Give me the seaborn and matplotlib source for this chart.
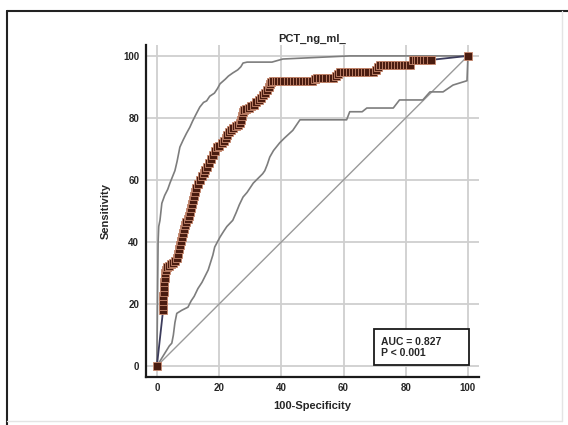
import numpy as np
import pandas as pd
import matplotlib
matplotlib.use("Agg")
import matplotlib.pyplot as plt
import seaborn as sns
from matplotlib.lines import Line2D
from matplotlib.patches import Rectangle
from matplotlib.ticker import MultipleLocator

sns.set_theme(style="whitegrid")
plt.rcParams['font.family'] = ['Liberation Sans', 'DejaVu Sans']

# ── data ─────────────────────────────────────────────────────────
roc_fpr = [0, 2, 2, 2, 2.1, 2.2, 2.3, 2.4, 2.5, 2.6, 2.8, 3.2, 3.8, 4.5, 5.2,
           5.8, 6.4, 6.8, 7.1, 7.4, 7.7, 8, 8.3, 8.6, 9, 9.5, 10, 10.4, 10.7,
           11, 11.2, 11.5, 11.8, 12.2, 12.7, 13.3, 13.8, 14.4, 15, 15.6, 16.2,
           16.8, 17.4, 18, 18.6, 19.3, 20, 20.8, 21.5, 22.2, 22.7, 23.2, 23.8,
           24.5, 25.3, 26, 26.7, 27.1, 27.4, 27.7, 28, 28.8, 29.6, 30.4, 31.2,
           32, 32.8, 33.5, 34.2, 34.8, 35.4, 35.9, 36.3, 36.8, 37.3, 38.2, 39.1,
           40, 41, 42, 43, 44, 45, 46, 47, 48, 49, 50, 50.8, 51.5, 52.5, 53.5,
           54.5, 55.5, 56.6, 57.5, 58.3, 59, 60, 61, 62, 63, 64, 65, 66, 67, 68,
           69.5, 70.3, 71, 71.7, 72.6, 73.5, 74.5, 75.5, 76.5, 77.5, 78.5, 79.5,
           80.5, 81.4, 82.3, 83.2, 84.1, 85, 86, 87, 88, 100]
roc_tpr = [0, 18, 19.5, 21, 22.5, 24, 25.5, 27, 28.5, 30, 31, 31.8, 32.3, 32.8,
           33.3, 34, 35, 36.3, 37.6, 39, 40.3, 41.6, 43, 44.3, 45.5, 46.5, 47.5,
           48.5, 49.7, 51, 52.3, 53.6, 55, 56.2, 57.4, 58.7, 60, 61.2, 62.3,
           63.2, 64.3, 65.5, 66.8, 68, 69.5, 70.5, 71, 71.8, 72.6, 73.5, 74.5,
           75.5, 76.2, 76.8, 77.3, 77.8, 78.5, 79.5, 80.7, 82, 82.6, 83, 83.3,
           83.7, 84.2, 85, 85.8, 86.5, 87.3, 88.2, 89.1, 90, 91, 91.5, 92, 92,
           92, 92, 92, 92, 92, 92, 92, 92, 92, 92, 92, 92, 92.5, 93, 93, 93,
           93, 93, 93, 93.6, 94.2, 94.7, 94.7, 94.7, 94.7, 94.7, 94.7, 94.7,
           94.7, 94.7, 94.7, 94.7, 95.5, 96.3, 97, 97, 97, 97, 97, 97, 97, 97,
           97, 97, 97, 98.7, 98.7, 98.7, 98.7, 98.7, 98.7, 98.7, 100]

upper_fpr = [0, 0.2, 0.4, 0.6, 1, 1.6, 2.5, 3.5, 4.2, 5, 5.8, 6.5, 7.4, 8.5,
             9.5, 10.6, 11.5, 12.5, 13.8, 15, 16, 17, 18.5, 19.5, 20.3, 22, 23,
             24.4, 26, 27, 27.7, 29, 37, 40.5, 62, 100]
upper_tpr = [0, 20, 40, 45, 47, 52.5, 55, 57, 59, 61, 63, 66, 70.6, 73,
             75, 77, 79, 81, 83.5, 85, 85.5, 87, 88, 89.5, 91, 92.5, 93.5,
             94.5, 95.5, 96.5, 97.7, 98, 98, 99, 100, 100]

lower_fpr = [0, 4, 4.8, 5.3, 5.8, 6.4, 8, 10, 11, 12, 13.2, 14.5, 15.5, 16.5,
             17, 18, 18.6, 20.3, 21.5, 22.5, 24.4, 25.5, 26.5, 27.7, 29, 30,
             31, 32.5, 34, 34.7, 35.5, 36.3, 37.5, 39.5, 41, 43.7, 46, 61, 62,
             66, 67.5, 76, 78, 85.5, 87.8, 92, 95.2, 99.7, 100]
lower_tpr = [0, 6.5, 7.4, 10, 14, 17, 18, 19, 21, 22.5, 25, 27, 29, 31,
             32.6, 35.8, 38.4, 41.6, 43.5, 45, 47, 49.5, 52, 54.5, 56, 57.5,
             59, 60.5, 62, 63, 65, 67.4, 69.5, 72, 73.5, 76, 79.4, 79.4, 82,
             82, 83.2, 83.2, 85.8, 85.8, 88.4, 88.4, 90.6, 92, 100]

ref_x = [0, 100]
ref_y = [0, 100]

title = "PCT_ng_ml_"
auc_text = "AUC = 0.827\nP < 0.001"

roc = pd.DataFrame({"fpr": roc_fpr, "tpr": roc_tpr})
upper = pd.DataFrame({"fpr": upper_fpr, "tpr": upper_tpr})
lower = pd.DataFrame({"fpr": lower_fpr, "tpr": lower_tpr})
ref = pd.DataFrame({"fpr": ref_x, "tpr": ref_y})

# ── figure ───────────────────────────────────────────────────────
fig = plt.figure(figsize=(5.68, 4.25), dpi=100)
ax = fig.add_axes([0.257, 0.113, 0.586, 0.781])

sns.lineplot(data=ref, x="fpr", y="tpr", sort=False, estimator=None,
             color="#9a9a9a", linewidth=1.0, ax=ax)
sns.lineplot(data=upper, x="fpr", y="tpr", sort=False, estimator=None,
             color="#7d7d7d", linewidth=1.2, ax=ax)
sns.lineplot(data=lower, x="fpr", y="tpr", sort=False, estimator=None,
             color="#7d7d7d", linewidth=1.2, ax=ax)
sns.lineplot(data=roc, x="fpr", y="tpr", sort=False, estimator=None,
             color="#3c3c5c", linewidth=1.3, ax=ax, zorder=4)
sns.scatterplot(data=roc, x="fpr", y="tpr", marker="s", s=26,
                color="#4a1c10", edgecolor="#c98a70", linewidth=0.6,
                ax=ax, zorder=5)

ax.set_xlim(-3.5, 103.5)
ax.set_ylim(-3.5, 103.5)
ax.xaxis.set_major_locator(MultipleLocator(20))
ax.yaxis.set_major_locator(MultipleLocator(20))
ax.xaxis.set_minor_locator(MultipleLocator(5))
ax.yaxis.set_minor_locator(MultipleLocator(5))

ax.grid(True, which="major", color="#cfcfcf", linewidth=1.3)
ax.grid(False, which="minor")
ax.set_facecolor("white")
for side in ["top", "right"]:
    ax.spines[side].set_visible(False)
for side in ["left", "bottom"]:
    ax.spines[side].set_color("#1a1a1a")
    ax.spines[side].set_linewidth(1.6)

ax.tick_params(which="major", direction="in", length=7, width=1.2,
               color="#1a1a1a", labelsize=7, pad=4)
ax.tick_params(which="minor", direction="in", length=3.5, width=1.0,
               color="#1a1a1a")
ax.tick_params(axis="y", which="major", pad=5)
for lbl in ax.get_xticklabels() + ax.get_yticklabels():
    lbl.set_fontweight("bold")

ax.set_xlabel("100-Specificity", fontsize=8, fontweight="bold", labelpad=6)
ax.set_ylabel("Sensitivity", fontsize=8, fontweight="bold", labelpad=9)
ax.set_title(title, fontsize=8, fontweight="bold", pad=2)

# AUC box
ax.add_patch(Rectangle((69.8, 0.3), 30.5, 11.6, facecolor="white",
                       edgecolor="#1a1a1a", linewidth=1.3, zorder=6))
ax.text(72.2, 6.1, auc_text, fontsize=7.5, fontweight="bold",
        va="center", ha="left", linespacing=1.15, zorder=7)

# outer frame of the original screenshot
fig.add_artist(Line2D([0.0123, 1.0], [0.974, 0.974], color="#222222", lw=1.5))
fig.add_artist(Line2D([0.0123, 0.0123], [0.0, 0.974], color="#222222", lw=1.5))
fig.add_artist(Line2D([0.989, 0.989], [0.01, 0.974], color="#e4e4e4", lw=1.0))
fig.add_artist(Line2D([0.0123, 0.989], [0.01, 0.01], color="#e4e4e4", lw=1.0))

fig.savefig("out.png", dpi=100)
